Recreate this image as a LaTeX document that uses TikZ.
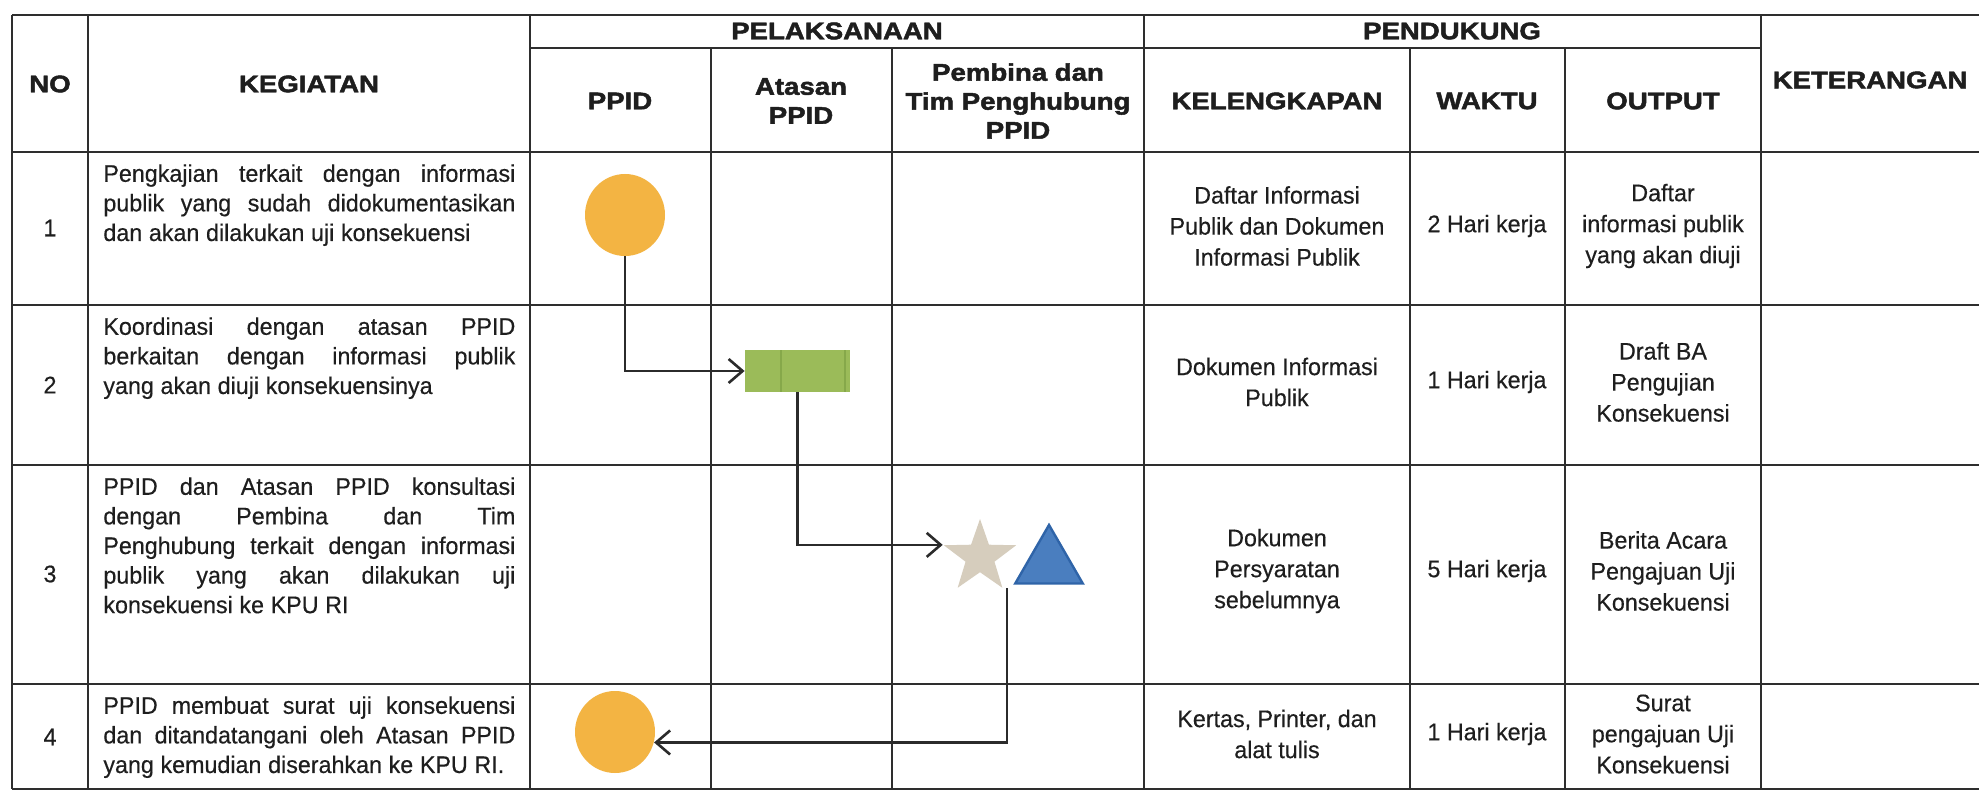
\documentclass[tikz,border=0pt]{standalone}
\usepackage{fontspec}
\setmainfont{Liberation Sans}[FakeStretch=0.97,FakeBold=0.4]
\newfontfamily\hdfont[FakeStretch=1.15,FakeBold=2]{Liberation Sans}
\usetikzlibrary{shapes.geometric,arrows.meta}
\definecolor{lineC}{HTML}{2E2E2E}
\definecolor{txtC}{HTML}{1E1E1E}
\definecolor{orC}{HTML}{F3B443}
\definecolor{grC}{HTML}{9BBB59}
\definecolor{grD}{HTML}{86A84A}
\definecolor{stC}{HTML}{D6CDBD}
\definecolor{blC}{HTML}{4A7EBF}
\definecolor{blD}{HTML}{2F64A8}
\definecolor{connC}{HTML}{2B2B2B}
\newcommand\jl[1]{\leavevmode\hbox to 206pt{\spaceskip=0.278em plus 1fil\relax #1}}
\newcommand\lastl[1]{\leavevmode\hbox{\spaceskip=0.278em\relax #1}}
\begin{document}
\begin{tikzpicture}[x=0.5pt,y=-0.5pt,
  grid/.style={draw=lineC, line width=0.8pt},
  hd/.style={font=\hdfont\bfseries\fontsize{12pt}{14.5pt}\selectfont, align=flush center, inner sep=0, text=txtC},
  keg/.style={anchor=north west, inner sep=0, text width=206pt, align=flush left, text=txtC, font=\fontsize{12pt}{14.8pt}\selectfont},
  cell/.style={align=flush center, inner sep=0, text=txtC, font=\fontsize{12pt}{15.5pt}\selectfont},
  num/.style={inner sep=0, text=txtC, font=\fontsize{12pt}{14pt}\selectfont},
  conn/.style={draw=connC, line width=1.3pt, -{Straight Barb[length=7pt,width=12pt]}},
  blob/.style={ellipse, fill=orC, minimum width=40pt, minimum height=41pt, inner sep=0},
]
\fill[white] (0,0) rectangle (1979,791);
\useasboundingbox (0,0) rectangle (1979,791);

% table grid
\foreach \yy in {15,152,305,465,684,789} \draw[grid] (12,\yy) -- (1979,\yy);
\draw[grid] (530,48) -- (1761,48);
\foreach \xx in {12,88,530,1144,1761} \draw[grid] (\xx,15) -- (\xx,789);
\foreach \xx in {711,892,1410,1565} \draw[grid] (\xx,48) -- (\xx,789);

% header
\node (hNo)  [hd] at (50,84) {NO};
\node (hKeg) [hd] at (309,84) {KEGIATAN};
\node (hPel) [hd] at (837,31) {PELAKSANAAN};
\node (hPen) [hd] at (1452,31) {PENDUKUNG};
\node (hKet) [hd] at (1870,80) {KETERANGAN};
\node (hPpid) [hd] at (620,101) {PPID};
\node (hAts) [hd] at (801,101) {Atasan\\PPID};
\node (hPem) [hd] at (1018,101) {Pembina dan\\Tim Penghubung\\PPID};
\node (hKel) [hd] at (1277,101) {KELENGKAPAN};
\node (hWak) [hd] at (1487,101) {WAKTU};
\node (hOut) [hd] at (1663,101) {OUTPUT};

% numbers
\node (n1) [num] at (50,228) {1};
\node (n2) [num] at (50,385) {2};
\node (n3) [num] at (50,574) {3};
\node (n4) [num] at (50,737) {4};

% kegiatan
\node (k1) [keg] at (103,164) {\jl{Pengkajian terkait dengan informasi}\\ \jl{publik yang sudah didokumentasikan}\\ \lastl{dan akan dilakukan uji konsekuensi}};
\node (k2) [keg] at (103,317) {\jl{Koordinasi dengan atasan PPID}\\ \jl{berkaitan dengan informasi publik}\\ \lastl{yang akan diuji konsekuensinya}};
\node (k3) [keg] at (103,477) {\jl{PPID dan Atasan PPID konsultasi}\\ \jl{dengan Pembina dan Tim}\\ \jl{Penghubung terkait dengan informasi}\\ \jl{publik yang akan dilakukan uji}\\ \lastl{konsekuensi ke KPU RI}};
\node (k4) [keg] at (103,696) {\jl{PPID membuat surat uji konsekuensi}\\ \jl{dan ditandatangani oleh Atasan PPID}\\ \lastl{yang kemudian diserahkan ke KPU RI.}};

% pendukung
\node (l1) [cell] at (1277,226) {Daftar Informasi\\Publik dan Dokumen\\Informasi Publik};
\node (w1) [cell] at (1487,226) {2 Hari kerja};
\node (o1) [cell] at (1663,226) {Daftar\\informasi publik\\yang akan diuji};
\node (l2) [cell] at (1277,382) {Dokumen Informasi\\Publik};
\node (w2) [cell] at (1487,382) {1 Hari kerja};
\node (o2) [cell] at (1663,382) {Draft BA\\Pengujian\\Konsekuensi};
\node (l3) [cell] at (1277,571) {Dokumen\\Persyaratan\\sebelumnya};
\node (w3) [cell] at (1487,571) {5 Hari kerja};
\node (o3) [cell] at (1663,571) {Berita Acara\\Pengajuan Uji\\Konsekuensi};
\node (l4) [cell] at (1277,734) {Kertas, Printer, dan\\alat tulis};
\node (w4) [cell] at (1487,734) {1 Hari kerja};
\node (o4) [cell] at (1663,734) {Surat\\pengajuan Uji\\Konsekuensi};

% flow shapes
\node (c1) [blob] at (625,215) {};
\node (r) [rectangle, fill=grC, minimum width=52.5pt, minimum height=21pt, inner sep=0] at (797.5,371) {};
\draw[draw=grD, line width=0.7pt] (781,350) -- (781,392) (845,350) -- (845,392);
\node (st) [star, star points=5, star point ratio=2.5, fill=stC, minimum size=38pt, inner sep=0] at (980,557) {};
\node (tri) [regular polygon, regular polygon sides=3, fill=blC, draw=blD, line width=1.2pt, minimum size=39pt, inner sep=0] at (1049,564) {};
\node (c2) [blob] at (615,732) {};
\coordinate (s3) at (1007,588);

% connectors
\draw[conn] (c1.south) |- (r.west);
\draw[conn] (r.south) |- (st.outer point 2);
\draw[conn] (s3) |- (c2.-15);
\end{tikzpicture}
\end{document}
